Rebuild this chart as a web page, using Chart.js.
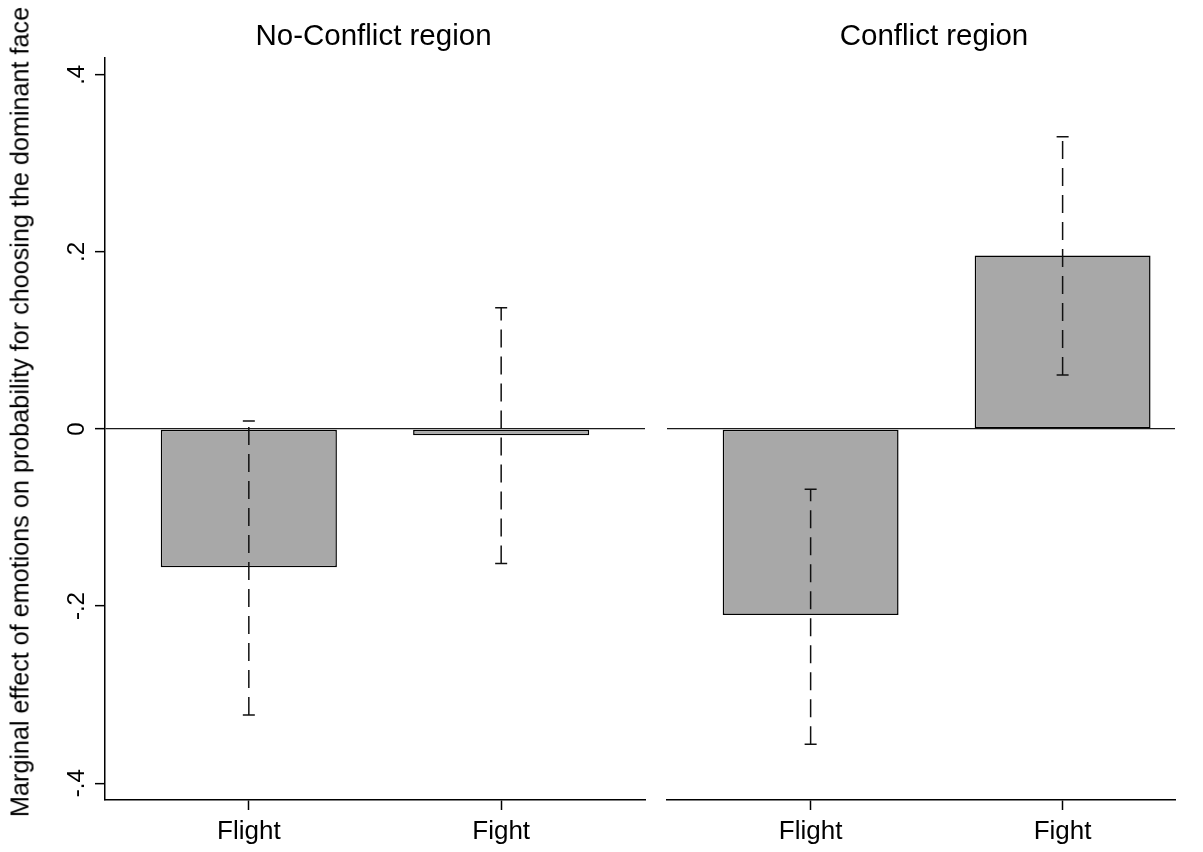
<!DOCTYPE html>
<html>
<head>
<meta charset="utf-8">
<script src="https://cdn.jsdelivr.net/npm/chart.js@4.4.1/dist/chart.umd.min.js"></script>
<style>
  html, body { margin: 0; padding: 0; background: #fff; overflow: hidden; width: 1203px; height: 852px; }
  #wrap { position: relative; width: 1203px; height: 852px; }
  #wrap canvas { position: absolute; top: 0; }
  #panelRight { left: 665px; }
  #panelLeft { left: 0; }
  .panel-title {
    position: absolute; top: 19.3px; line-height: 32px;
    transform: translateX(-50%);
    white-space: nowrap; color: #000;
    font-size: 29.5px; font-family: "Liberation Sans", Arial, sans-serif;
  }
  #titleLeft { left: 373.5px; }
  #titleRight { left: 934px; }
  #yTitle {
    position: absolute; left: 19.5px; top: 412px;
    transform: translate(-50%, -50%) rotate(-90deg);
    white-space: nowrap; color: #000;
    font: 25.2px "Liberation Sans", Arial, sans-serif;
  }
</style>
</head>
<body>
<div id="wrap">
  <canvas id="panelRight" width="538" height="852"></canvas>
  <canvas id="panelLeft" width="747" height="852"></canvas>
  <div class="panel-title" id="titleLeft"></div>
  <div class="panel-title" id="titleRight"></div>
  <div id="yTitle">Marginal effect of emotions on probability for choosing the dominant face</div>
</div>
<script>
// Categories and estimates (marginal effects with 95% CI bounds)
const categories = ['Flight', 'Fight'];

const noConflictEffect = [-0.156, -0.007];
const noConflictLower  = [-0.323, -0.152];
const noConflictUpper  = [ 0.009,  0.137];

const conflictEffect = [-0.210, 0.196];
const conflictLower  = [-0.356, 0.061];
const conflictUpper  = [-0.068, 0.330];

const yTickValues = [-0.4, -0.2, 0, 0.2, 0.4];
const yTickLabels = ['-.4', '-.2', '0', '.2', '.4'];

const panelTitles = ['No-Conflict region', 'Conflict region'];

// Styling
const FONT = '"Liberation Sans", Arial, sans-serif';
const BAR_FILL = '#a8a8a8';
const Y_LIM = 0.419;
const X_MIN = 0.43;

Chart.defaults.font.family = FONT;
Chart.defaults.color = '#000';

document.getElementById('titleLeft').textContent = panelTitles[0];
document.getElementById('titleRight').textContent = panelTitles[1];

// Dashed confidence-interval bars with end caps
const ciBarsPlugin = {
  id: 'ciBars',
  afterDatasetsDraw(chart, args, opts) {
    const { ctx } = chart;
    const xs = chart.scales.x, ys = chart.scales.y;
    ctx.save();
    ctx.strokeStyle = opts.color;
    ctx.lineWidth = opts.lineWidth;
    ctx.lineCap = 'butt';
    opts.lower.forEach((lo, i) => {
      const px = xs.getPixelForValue(i + 1);
      const yLo = ys.getPixelForValue(lo);
      const yHi = ys.getPixelForValue(opts.upper[i]);
      ctx.setLineDash(opts.dash);
      ctx.beginPath();
      ctx.moveTo(px, yLo);
      ctx.lineTo(px, yHi);
      ctx.stroke();
      ctx.setLineDash([]);
      ctx.beginPath();
      ctx.moveTo(px - opts.capHalf, yLo); ctx.lineTo(px + opts.capHalf, yLo);
      ctx.moveTo(px - opts.capHalf, yHi); ctx.lineTo(px + opts.capHalf, yHi);
      ctx.stroke();
    });
    ctx.restore();
  }
};

function zeroLine(c) {
  return c.tick && c.tick.value === 0 ? '#1a1a1a' : 'transparent';
}

function makePanel(canvasId, effect, lower, upper, xMax, isLeft) {
  return new Chart(document.getElementById(canvasId), {
    type: 'bar',
    data: {
      datasets: [{
        data: categories.map((c, i) => ({ x: i + 1, y: effect[i] })),
        backgroundColor: BAR_FILL,
        borderColor: '#000',
        borderWidth: 1.5,
        borderSkipped: false,
        barPercentage: 0.698,
        categoryPercentage: 1
      }]
    },
    options: {
      responsive: false,
      animation: false,
      events: [],
      layout: { padding: { left: 0, right: isLeft ? 102 : 28, top: 58, bottom: 0 } },
      plugins: {
        legend: { display: false },
        tooltip: { enabled: false },
        title: { display: false },
        ciBars: {
          lower: lower,
          upper: upper,
          color: '#111',
          lineWidth: 1.5,
          dash: [18, 9],
          capHalf: 6
        }
      },
      scales: {
        x: {
          type: 'linear',
          min: X_MIN,
          max: xMax,
          offset: false,
          afterBuildTicks: s => { s.ticks = categories.map((c, i) => ({ value: i + 1 })); },
          afterFit: s => { s.height = 52; },
          ticks: {
            callback: v => categories[v - 1],
            font: { size: 26, family: FONT },
            color: '#000',
            padding: 6,
            maxRotation: 0,
            autoSkip: false
          },
          grid: {
            offset: false,
            drawOnChartArea: false,
            color: 'transparent',
            tickColor: '#000',
            tickLength: 10,
            tickWidth: 1.5
          },
          border: { display: true, color: '#000', width: 1.5 }
        },
        y: {
          type: 'linear',
          min: -Y_LIM,
          max: Y_LIM,
          afterBuildTicks: s => { s.ticks = yTickValues.map(v => ({ value: v })); },
          afterFit: s => { s.width = isLeft ? 105 : 2; },
          ticks: {
            display: isLeft,
            callback: (v, i) => yTickLabels[i],
            font: { size: 24, family: FONT },
            color: '#000',
            minRotation: 90,
            maxRotation: 90,
            crossAlign: 'center',
            padding: 4,
            autoSkip: false
          },
          grid: {
            color: zeroLine,
            lineWidth: 1.3,
            drawTicks: isLeft,
            tickColor: '#000',
            tickLength: 10,
            tickWidth: 1.5
          },
          border: { display: isLeft, color: '#000', width: 1.5 }
        }
      }
    },
    plugins: [ciBarsPlugin]
  });
}

makePanel('panelLeft', noConflictEffect, noConflictLower, noConflictUpper, 2.57, true);
makePanel('panelRight', conflictEffect, conflictLower, conflictUpper, 2.446, false);
</script>
</body>
</html>
